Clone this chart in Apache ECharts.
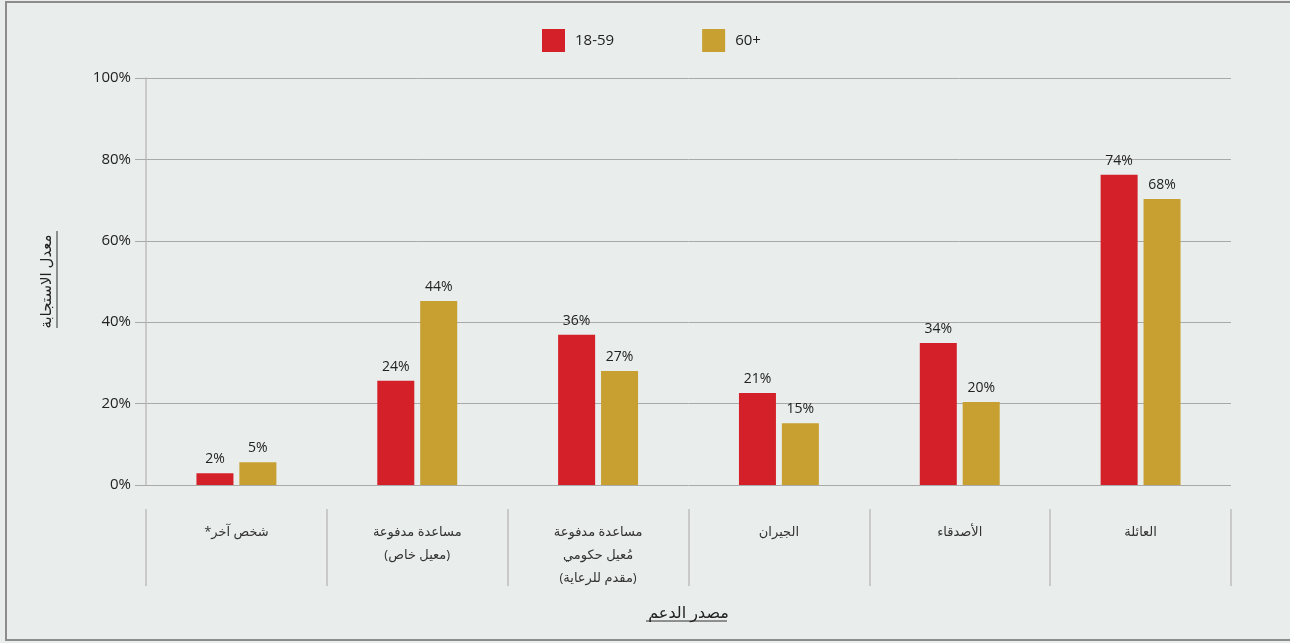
<!DOCTYPE html>
<html>
<head>
<meta charset="utf-8">
<script src="https://cdn.jsdelivr.net/npm/echarts@6/dist/echarts.min.js"></script>
<style>
  html,body{margin:0;padding:0;background:#e9edec;}
  #frame{position:absolute;left:5px;top:1px;width:1290px;height:640px;border-left:2px solid #8c8c8c;border-top:2px solid #8c8c8c;border-bottom:2px solid #8c8c8c;box-sizing:border-box;}
  #chart{position:absolute;left:0;top:0;width:1290px;height:643px;}
</style>
</head>
<body>
<div id="frame"></div>
<div id="chart"></div>
<script>
// categories, left to right as drawn
let categories=[
    "\u200Fشخص آخر*\u200F",
    "\u200Fمساعدة مدفوعة\u200F\n\u200F(معيل خاص)\u200F",
    "\u200Fمساعدة مدفوعة\u200F\n\u200Fمُعيل حكومي\u200F\n\u200F(مقدم للرعاية)\u200F",
    "\u200Fالجيران\u200F",
    "\u200Fالأصدقاء\u200F",
    "\u200Fالعائلة\u200F"
]
// bar heights as drawn (percent)
let young=[2.9,25.6,36.9,22.6,34.9,76.2]
let old=[5.6,45.2,28.0,15.2,20.4,70.3]
// printed labels
let youngLabels=["2%","24%","36%","21%","34%","74%"]
let oldLabels=["5%","44%","27%","15%","20%","68%"]
let yTicks=[0,20,40,60,80,100]

let font='"Open Sans", "DejaVu Sans", sans-serif'
let red='#d42129'
let gold='#c7a031'

let chart=echarts.init(document.getElementById("chart"),null,{renderer:"canvas"})

let makeSeries=(name,vals,labels,color)=>({
    name:name,
    type:"bar",
    barWidth:37,
    barGap:"16%",
    data:vals.map((v,i)=>({value:v,label:{formatter:labels[i]}})),
    itemStyle:{color:color},
    label:{show:true,position:"top",distance:7,fontFamily:font,fontSize:14,color:"#222"}
})

let option={
    backgroundColor:"transparent",
    textStyle:{fontFamily:font},
    legend:{
        left:537,
        top:24,
        itemWidth:23,
        itemHeight:23,
        itemGap:88,
        icon:"rect",
        textStyle:{fontFamily:font,fontSize:15,color:"#222",padding:[0,0,0,5]},
        data:["18-59","60+"]
    },
    grid:[
        {left:146,right:59,top:78,bottom:158},
        // strip under the plot holding the category separators
        {left:146,right:59,top:509,height:77}
    ],
    xAxis:[{
        type:"category",
        data:categories,
        axisLine:{show:false},
        axisTick:{show:false},
        axisLabel:{interval:0,margin:36,fontFamily:font,fontSize:13,color:"#333",lineHeight:23},
        name:"\u200Fمصدر الدعم\u200F",
        nameLocation:"middle",
        nameGap:120,
        nameTextStyle:{fontFamily:font,fontSize:16,color:"#222"}
    },{
        type:"category",
        gridIndex:1,
        data:categories,
        axisLine:{show:false},
        axisTick:{show:false},
        axisLabel:{show:false},
        splitLine:{show:true,interval:0,lineStyle:{color:"#bdbdbd",width:1.5}}
    }],
    yAxis:[{
        type:"value",
        min:yTicks[0],
        max:yTicks[yTicks.length-1],
        interval:20,
        axisLine:{show:true,lineStyle:{color:"#bdbdbd",width:1.5}},
        axisTick:{show:true,length:11,lineStyle:{color:"#a9a9a9"}},
        splitLine:{lineStyle:{color:"#a9a9a9",width:1}},
        axisLabel:{formatter:"{value}%",margin:15,fontFamily:font,fontSize:15,color:"#222"},
        name:"\u200Fمعدل الاستجابة\u200F",
        nameLocation:"middle",
        nameGap:92,
        nameTextStyle:{fontFamily:font,fontSize:15,color:"#222"}
    },{
        type:"value",
        gridIndex:1,
        show:false
    }],
    graphic:[
        // underlines of axis titles
        {type:"line",shape:{x1:646,y1:621,x2:727,y2:621},style:{stroke:"#333",lineWidth:1}},
        {type:"line",shape:{x1:57,y1:231,x2:57,y2:328},style:{stroke:"#333",lineWidth:1}}
    ],
    series:[
        makeSeries("18-59",young,youngLabels,red),
        makeSeries("60+",old,oldLabels,gold)
    ]
}
chart.setOption(option)
</script>
</body>
</html>
